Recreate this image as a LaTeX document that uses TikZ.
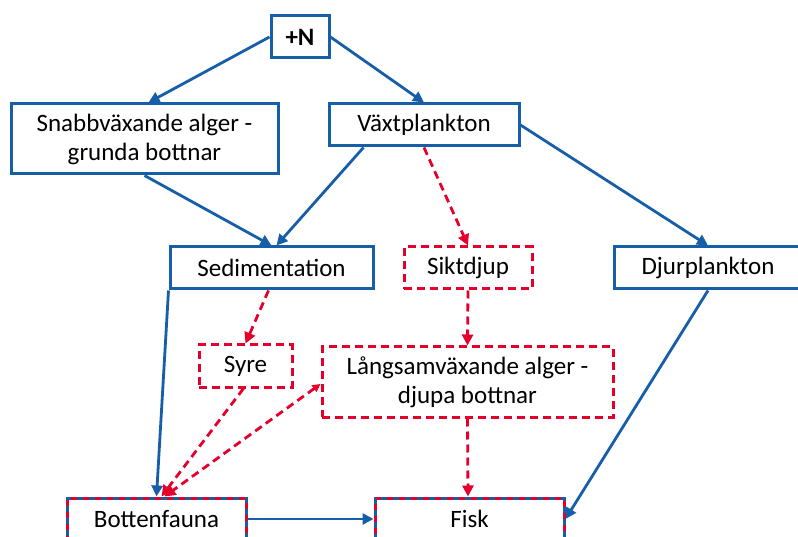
\documentclass[tikz,border=0pt]{standalone}
\usepackage{fontspec}
\setmainfont{Carlito}
\usetikzlibrary{arrows.meta}
\definecolor{effblue}{RGB}{23,94,168}
\definecolor{effred}{RGB}{228,0,43}
\begin{document}
\begin{tikzpicture}[
        x=1pt, y=-1pt,
        font=\fontsize{25}{29}\selectfont,
        box/.style={draw=effblue, line width=3pt, fill=white, minimum height=42pt, align=center, inner sep=0pt},
        dbox/.style={box, draw=effred, dash pattern=on 8pt off 5pt},
        mixbox/.style={box, draw=effred, postaction={draw=effblue, dash pattern=on 6pt off 6pt}},
        arrow/.style={-{Triangle[length=11pt,width=11pt]}, effblue, line width=2.8pt},
        darrow/.style={arrow, effred, dash pattern=on 8pt off 5pt}
    ]
    \useasboundingbox (0,0) rectangle (798,537);
    \clip (0,0) rectangle (798,537);
    % Nodes
    \node[box, minimum width=58pt, font=\fontsize{25}{29}\selectfont\bfseries] (N) at (300,37) {+N};
    \node[box, minimum width=267pt, minimum height=70pt] (snabb) at (144.5,139) {Snabbväxande alger -\\grunda bottnar};
    \node[box, minimum width=190pt] (vaxt) at (424,125) {Växtplankton};
    \node[box, minimum width=203pt] (sedim) at (271.5,268) {Sedimentation};
    \node[dbox, minimum width=128pt] (sikt) at (468,268) {Siktdjup};
    \node[box, minimum width=188pt] (djur) at (708,268) {Djurplankton};
    \node[dbox, minimum width=93pt] (syre) at (245.5,366) {Syre};
    \node[dbox, minimum width=291pt, minimum height=70pt] (lang) at (467.5,382) {Långsamväxande alger -\\djupa bottnar};
    \node[mixbox, minimum width=179pt] (botten) at (156.5,519) {Bottenfauna};
    \node[mixbox, minimum width=189pt] (fisk) at (469.5,519) {Fisk};
    % Edges
    \draw[arrow] (N.west) -- ([xshift=4pt]snabb.north);
    \draw[arrow] (N.east) -- (vaxt.north);
    \draw[arrow] (snabb.south) -- (sedim.north);
    \draw[arrow] ([xshift=36pt]vaxt.south west) -- ([xshift=5pt]sedim.north);
    \draw[darrow] (vaxt.south) -- (sikt.north);
    \draw[arrow] (vaxt.east) -- (djur.north);
    \draw[arrow] (sedim.south west) -- (botten.north);
    \draw[darrow] ([xshift=-3pt]sedim.south) -- (syre.north);
    \draw[darrow] (sikt.south) -- (lang.north);
    \draw[darrow] ([xshift=-2pt]syre.south) -- ([xshift=5pt]botten.north);
    \draw[darrow, {Triangle[length=8pt,width=8pt]}-{Triangle[length=11pt,width=11pt]}] ([yshift=-2pt]lang.west) -- ([xshift=8pt]botten.north);
    \draw[darrow] (lang.south) -- ([xshift=-1.5pt]fisk.north);
    \draw[arrow] (botten.east) -- (fisk.west);
    \draw[arrow] (djur.south) -- (fisk.east);
\end{tikzpicture}
\end{document}
